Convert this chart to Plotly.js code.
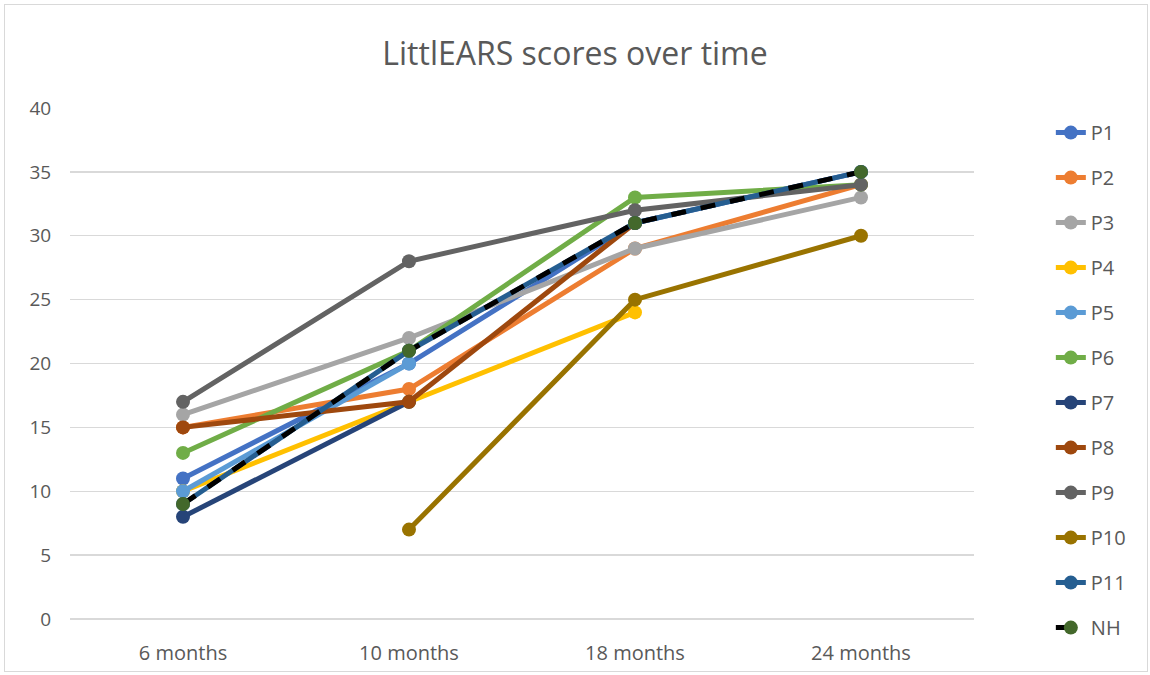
<!DOCTYPE html>
<html>
<head>
<meta charset="utf-8">
<script src="https://cdn.plot.ly/plotly-3.0.1.min.js"></script>
<style>
html,body{margin:0;padding:0;background:#fff;}
#chart{width:1150px;height:675px;}
#frame{position:absolute;left:4px;top:4px;width:1144px;height:668px;border:1px solid #d9d9d9;pointer-events:none;box-sizing:border-box;}
</style>
</head>
<body>
<div id="chart"></div>
<div id="frame"></div>
<script>
const categories = ["6 months", "10 months", "18 months", "24 months"];
const P1  = [11, 20, 31, 35];
const P2  = [15, 18, 29, 34];
const P3  = [16, 22, 29, 33];
const P4  = [10, 17, 24, null];
const P5  = [10, 20, null, null];
const P6  = [13, 21, 33, 34];
const P7  = [8, 17, null, null];
const P8  = [15, 17, 31, null];
const P9  = [17, 28, 32, 34];
const P10 = [null, 7, 25, 30];
const P11 = [9, 21, 31, 35];
const NH  = [9, 21, 31, 35];

const seriesNames = ["P1","P2","P3","P4","P5","P6","P7","P8","P9","P10","P11","NH"];
const seriesValues = [P1,P2,P3,P4,P5,P6,P7,P8,P9,P10,P11,NH];
const lineColors = ["#4472C4","#ED7D31","#A5A5A5","#FFC000","#5B9BD5","#70AD47","#264478","#9E480E","#636363","#997300","#255E91","#000000"];
const markerColors = ["#4472C4","#ED7D31","#A5A5A5","#FFC000","#5B9BD5","#70AD47","#264478","#9E480E","#636363","#997300","#255E91","#43682B"];

const traces = seriesNames.map((n, i) => ({
  type: "scatter",
  mode: "lines+markers",
  name: n,
  legendgroup: n,
  x: categories,
  y: seriesValues[i],
  connectgaps: false,
  line: {color: lineColors[i], width: 5, dash: n === "NH" ? "dash" : "solid"},
  marker: {color: markerColors[i], size: 14, symbol: "circle"}
}));

const layout = {
  width: 1150, height: 675,
  paper_bgcolor: "#ffffff", plot_bgcolor: "#ffffff",
  margin: {l: 70, r: 176, t: 108, b: 56},
  title: {text: "LittlEARS scores over time", x: 0.5, xanchor: "center", y: 0.92, yanchor: "middle",
          font: {family: "Open Sans, Liberation Sans, sans-serif", size: 32, color: "#595959"}},
  font: {family: "Open Sans, Liberation Sans, sans-serif", color: "#595959"},
  xaxis: {type: "category", range: [-0.5, 3.5], showgrid: false, zeroline: false,
          showline: false, ticks: "outside", ticklen: 16, tickcolor: "rgba(0,0,0,0)",
          tickfont: {size: 20, color: "#595959"}, fixedrange: true},
  yaxis: {range: [0, 40], dtick: 5, showgrid: true, gridcolor: "#d9d9d9", gridwidth: 1.3,
          zeroline: true, zerolinecolor: "#d9d9d9", zerolinewidth: 1.3, showline: false,
          ticks: "outside", ticklen: 14, tickcolor: "rgba(0,0,0,0)",
          tickfont: {size: 19, color: "#595959"}, fixedrange: true},
  legend: {x: 1.085, xanchor: "left", y: 0.99, yanchor: "top", tracegroupgap: 16, maxheight: 620,
           font: {size: 20, color: "#595959"}, bgcolor: "rgba(0,0,0,0)"},
  showlegend: true
};

Plotly.newPlot("chart", traces, layout, {displayModeBar: false, staticPlot: true});
</script>
</body>
</html>
